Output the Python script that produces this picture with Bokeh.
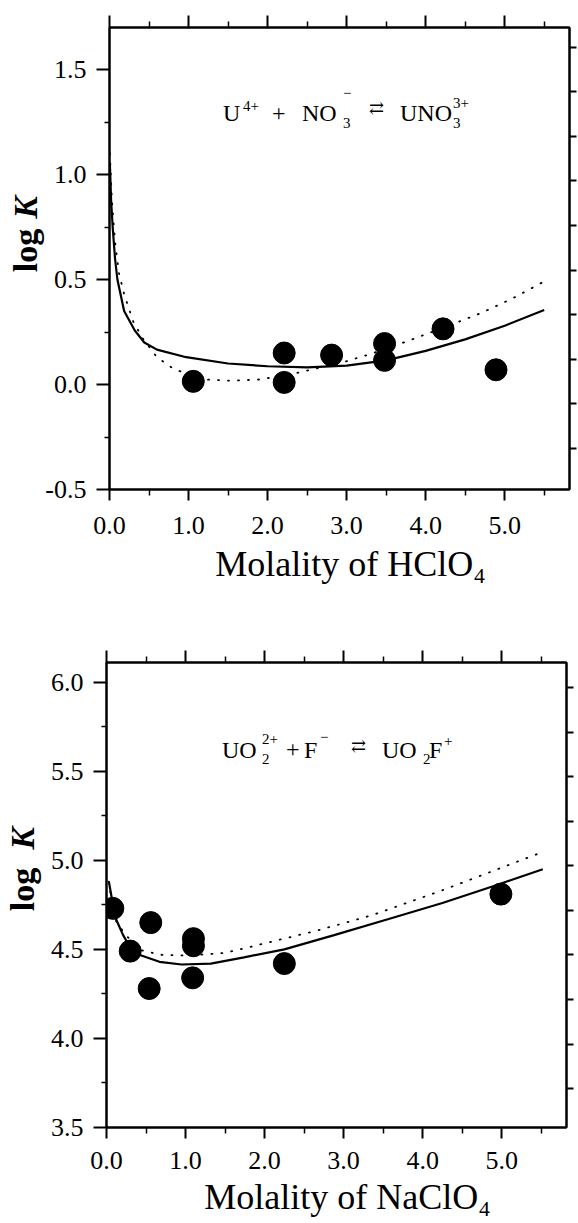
from math import pi
from bokeh.plotting import figure
from bokeh.models import Range1d, LinearAxis, FixedTicker, Label
from bokeh.core.properties import value
from bokeh.layouts import column, row
from bokeh.embed import file_html
from bokeh.resources import INLINE

SERIF = "Liberation Serif"

# ---------------- data: top panel (HClO4) ----------------
hclo4_molality = [1.06, 2.21, 2.21, 2.81, 3.48, 3.48, 4.22, 4.89]
hclo4_logk = [0.015, 0.15, 0.01, 0.14, 0.195, 0.115, 0.265, 0.07]

hclo4_solid_m = [0.005, 0.02, 0.04, 0.07, 0.1, 0.185, 0.32, 0.44, 0.6, 0.97,
                 1.5, 2.0, 2.5, 3.0, 3.5, 4.0, 4.5, 5.0, 5.5]
hclo4_solid_k = [1.05, 0.88, 0.75, 0.6, 0.5, 0.35, 0.257, 0.2, 0.166, 0.13,
                 0.1, 0.087, 0.082, 0.09, 0.115, 0.16, 0.215, 0.28, 0.355]

hclo4_dot_m = [0.005, 0.03, 0.07, 0.12, 0.185, 0.3, 0.42, 0.6, 0.79, 1.0, 1.21,
               1.55, 1.9, 2.25, 2.6, 2.95, 3.3, 3.76, 4.22, 4.7, 5.1, 5.52]
hclo4_dot_k = [1.1, 0.88, 0.68, 0.53, 0.43, 0.3, 0.22, 0.13, 0.08, 0.045, 0.024,
               0.018, 0.024, 0.045, 0.075, 0.105, 0.145, 0.205, 0.27, 0.34, 0.41, 0.495]

# ---------------- data: bottom panel (NaClO4) ----------------
naclo4_molality = [0.08, 0.3, 0.56, 0.54, 1.1, 1.1, 1.09, 2.25, 4.99]
naclo4_logk = [4.73, 4.49, 4.65, 4.28, 4.56, 4.52, 4.34, 4.42, 4.81]

naclo4_solid_m = [0.03, 0.07, 0.12, 0.21, 0.3, 0.44, 0.67, 0.95, 1.32, 1.74,
                  2.25, 2.88, 3.57, 4.25, 4.93, 5.52]
naclo4_solid_k = [4.88, 4.78, 4.67, 4.58, 4.51, 4.465, 4.43, 4.415, 4.42, 4.455,
                  4.5, 4.58, 4.67, 4.76, 4.86, 4.95]

naclo4_dot_m = [0.03, 0.07, 0.12, 0.21, 0.4, 0.67, 1.04, 1.5, 1.97, 2.66, 3.35, 4.24, 5.51]
naclo4_dot_k = [4.88, 4.76, 4.66, 4.6, 4.5, 4.47, 4.465, 4.48, 4.53, 4.605, 4.69, 4.83, 5.045]

# ticks / labels
x_major = [0, 1, 2, 3, 4, 5]
x_minor = [0.5, 1.5, 2.5, 3.5, 4.5, 5.5]
top_y_major = [-0.5, 0.0, 0.5, 1.0, 1.5]
top_y_minor = [-0.25, 0.25, 0.75, 1.25]
bot_y_major = [3.5, 4.0, 4.5, 5.0, 5.5, 6.0]
bot_y_minor = [3.75, 4.25, 4.75, 5.25, 5.75]
top_xlabel = "Molality of HClO\u2084"
bot_xlabel = "Molality of NaClO\u2084"

PAGE_W = 578
FRAME_W = 460
X_RANGE = (0, 5.82)
AXB = 16          # border holding the left ticks
TICK_PX = 26
TICK_FONT = "%dpx" % TICK_PX
XLAB_PX = 36
BASE_FIX = 0.37   # renderer draws alphabetic text this many em lower


def make_panel(yr, frame_h, border_top, border_bottom, ymaj, ymin, right_end, right_ticks):
    p = figure(frame_width=FRAME_W, frame_height=frame_h, title=None,
               x_range=Range1d(*X_RANGE), y_range=Range1d(*yr),
               output_backend="svg", toolbar_location=None,
               min_border_left=AXB, min_border_right=9,
               min_border_top=border_top, min_border_bottom=border_bottom,
               background_fill_color="white", border_fill_color="white")
    p.grid.visible = False
    p.outline_line_color = "black"
    p.outline_line_width = 2
    p.extra_y_ranges = {"r": Range1d(0, right_end)}
    p.add_layout(LinearAxis(), "above")
    p.add_layout(LinearAxis(y_range_name="r"), "right")
    for ax in p.axis:
        ax.axis_line_width = 2
        ax.axis_line_color = "black"
        ax.major_tick_line_width = 2
        ax.minor_tick_line_width = 1.5
        ax.major_tick_in = 0
        ax.minor_tick_in = 0
        ax.major_label_text_font = SERIF
        ax.major_label_text_font_size = "1px"
        ax.major_label_text_color = None
        ax.major_label_standoff = 0
    for ax in (p.below[0], p.above[0]):
        ax.ticker = FixedTicker(ticks=x_major, minor_ticks=x_minor)
        ax.minor_tick_out = 6
    p.below[0].major_tick_out = 11
    p.above[0].major_tick_out = 12
    p.left[0].ticker = FixedTicker(ticks=ymaj, minor_ticks=ymin)
    p.left[0].major_tick_out = 13
    p.left[0].minor_tick_out = 5
    p.right[0].ticker = FixedTicker(ticks=right_ticks, minor_ticks=[])
    p.right[0].major_tick_out = 7
    return p


def add_piece(p, x, y, dx, dy, text, size, font=SERIF):
    p.add_layout(Label(x=x, y=y, x_offset=dx, y_offset=dy, text=text,
                       text_font=font, text_font_size=size,
                       text_color="black", text_align="left",
                       text_baseline="alphabetic"))


def blank(width, height, xr, yr, top=0):
    f = figure(frame_width=width, frame_height=height, title=None,
               x_range=Range1d(*xr), y_range=Range1d(*yr),
               output_backend="svg", toolbar_location=None,
               min_border=0, min_border_top=top,
               x_axis_location=None, y_axis_location=None,
               background_fill_color="white", border_fill_color="white")
    f.grid.visible = False
    f.outline_line_color = None
    return f


def left_strip(width, top, height, yr_lo, yr_hi, ymaj, x_right, x_lab, y_log, y_k):
    f = blank(width, height, (0, width), (yr_lo, yr_hi), top=top)
    f.text(x=[x_right] * len(ymaj), y=ymaj, text=["%.1f" % v for v in ymaj],
           text_font=value(SERIF), text_font_size=value(TICK_FONT), text_color="black",
           text_align=value("right"), text_baseline=value("middle"))
    f.text(x=[x_lab], y=[y_log], text=["log"], angle=pi / 2,
           text_font=value(SERIF), text_font_style=value("bold"),
           text_font_size=value("34px"), text_color="black",
           text_align=value("center"), text_baseline=value("middle"))
    f.text(x=[x_lab], y=[y_k], text=["K"], angle=pi / 2,
           text_font=value(SERIF), text_font_style=value("bold italic"),
           text_font_size=value("34px"), text_color="black",
           text_align=value("center"), text_baseline=value("middle"))
    return f


def bottom_strip(height, frame_left, tick_base, label_base, label_x, label):
    # tick_base / label_base: wanted baseline, in px above the strip's bottom
    ppu = FRAME_W / (X_RANGE[1] - X_RANGE[0])
    xr = (X_RANGE[0] - frame_left / ppu, X_RANGE[0] + (PAGE_W - frame_left) / ppu)
    f = blank(PAGE_W, height, xr, (0, height))
    f.text(x=x_major, y=[tick_base + BASE_FIX * TICK_PX] * len(x_major),
           text=["%.1f" % v for v in x_major],
           text_font=value(SERIF), text_font_size=value(TICK_FONT), text_color="black",
           text_align=value("center"), text_baseline=value("alphabetic"))
    f.text(x=[label_x], y=[label_base + BASE_FIX * XLAB_PX], text=[label],
           text_font=value(SERIF), text_font_size=value("%dpx" % XLAB_PX),
           text_color="black", text_align=value("center"),
           text_baseline=value("alphabetic"))
    return f


# ---------------- top panel ----------------
T_TOP, T_FRAME, T_BOT = 27, 462, 19
T_YR = (-0.5, 1.7)
T_LW = 109 - AXB
T_H = T_TOP + T_FRAME + T_BOT
p1 = make_panel(T_YR, T_FRAME, T_TOP, T_BOT, top_y_major, top_y_minor,
                10.36, [0.92 + k for k in range(10)])
p1.line(hclo4_dot_m, hclo4_dot_k, line_color="black", line_width=1.8,
        line_dash="1 9", line_cap="round")
p1.line(hclo4_solid_m, hclo4_solid_k, line_color="black", line_width=2.2)
p1.scatter(hclo4_molality, hclo4_logk, size=22, marker="circle",
           fill_color="black", line_color="black")

ax, ay = 1.436, 1.248
for txt, dx, dy, sz, fnt in [("U", 0, 9, "24px", SERIF), ("4+", 20, 16, "15px", SERIF),
                             ("+", 49, 9, "24px", SERIF), ("NO", 79, 9, "24px", SERIF),
                             ("3", 120, -1, "15px", SERIF), ("\u2212", 120, 29, "15px", SERIF),
                             ("\u21c4", 146, 15, "18px", "DejaVu Serif"),
                             ("UNO", 177, 9, "24px", SERIF), ("3", 230, -1, "15px", SERIF),
                             ("3+", 230, 19, "15px", SERIF)]:
    add_piece(p1, ax, ay, dx, dy, txt, sz, fnt)

t_ppu = T_FRAME / (T_YR[1] - T_YR[0])
l1 = left_strip(T_LW, T_TOP, T_FRAME + T_BOT, T_YR[0] - T_BOT / t_ppu, T_YR[1],
                top_y_major, 86, 25, 0.638, 0.843)
S1_H = 600 - T_H
s1 = bottom_strip(S1_H, 109, 600 - 535, 600 - 577, 3.05, top_xlabel)

# ---------------- bottom panel ----------------
B_TOP, B_FRAME, B_BOT = 62, 465, 19
B_YR = (3.5, 6.11)
B_LW = 106 - AXB
B_H = B_TOP + B_FRAME + B_BOT
p2 = make_panel(B_YR, B_FRAME, B_TOP, B_BOT, bot_y_major, bot_y_minor,
                10.43, [0.87 + k for k in range(10)])
p2.line(naclo4_dot_m, naclo4_dot_k, line_color="black", line_width=1.8,
        line_dash="1 9", line_cap="round")
p2.line(naclo4_solid_m, naclo4_solid_k, line_color="black", line_width=2.2)
p2.scatter(naclo4_molality, naclo4_logk, size=22, marker="circle",
           fill_color="black", line_color="black")

bx, by = 1.46, 5.571
for txt, dx, dy, sz, fnt in [("UO", 0, 9, "24px", SERIF), ("2", 40, 0, "15px", SERIF),
                             ("2+", 40, 20, "15px", SERIF), ("+", 64, 9, "24px", SERIF),
                             ("F", 82, 9, "24px", SERIF), ("\u2212", 98, 22, "15px", SERIF),
                             ("\u21c4", 129, 13, "18px", "DejaVu Serif"),
                             ("UO", 160, 9, "24px", SERIF), ("2", 201, 0, "15px", SERIF),
                             ("F", 207, 9, "24px", SERIF), ("+", 222, 18, "15px", SERIF)]:
    add_piece(p2, bx, by, dx, dy, txt, sz, fnt)

b_ppu = B_FRAME / (B_YR[1] - B_YR[0])
l2 = left_strip(B_LW, B_TOP, B_FRAME + B_BOT, B_YR[0] - B_BOT / b_ppu, B_YR[1],
                bot_y_major, 83, 22, 4.836, 5.122)
S2_TOP = 600 + B_H
S2_H = 1223 - S2_TOP
s2 = bottom_strip(S2_H, 106, 1223 - 1170, 1223 - 1210, 3.05, bot_xlabel)

layout = column(row(l1, p1, spacing=0), s1, row(l2, p2, spacing=0), s2, spacing=0)
open("out.html", "w").write(file_html(layout, INLINE))
